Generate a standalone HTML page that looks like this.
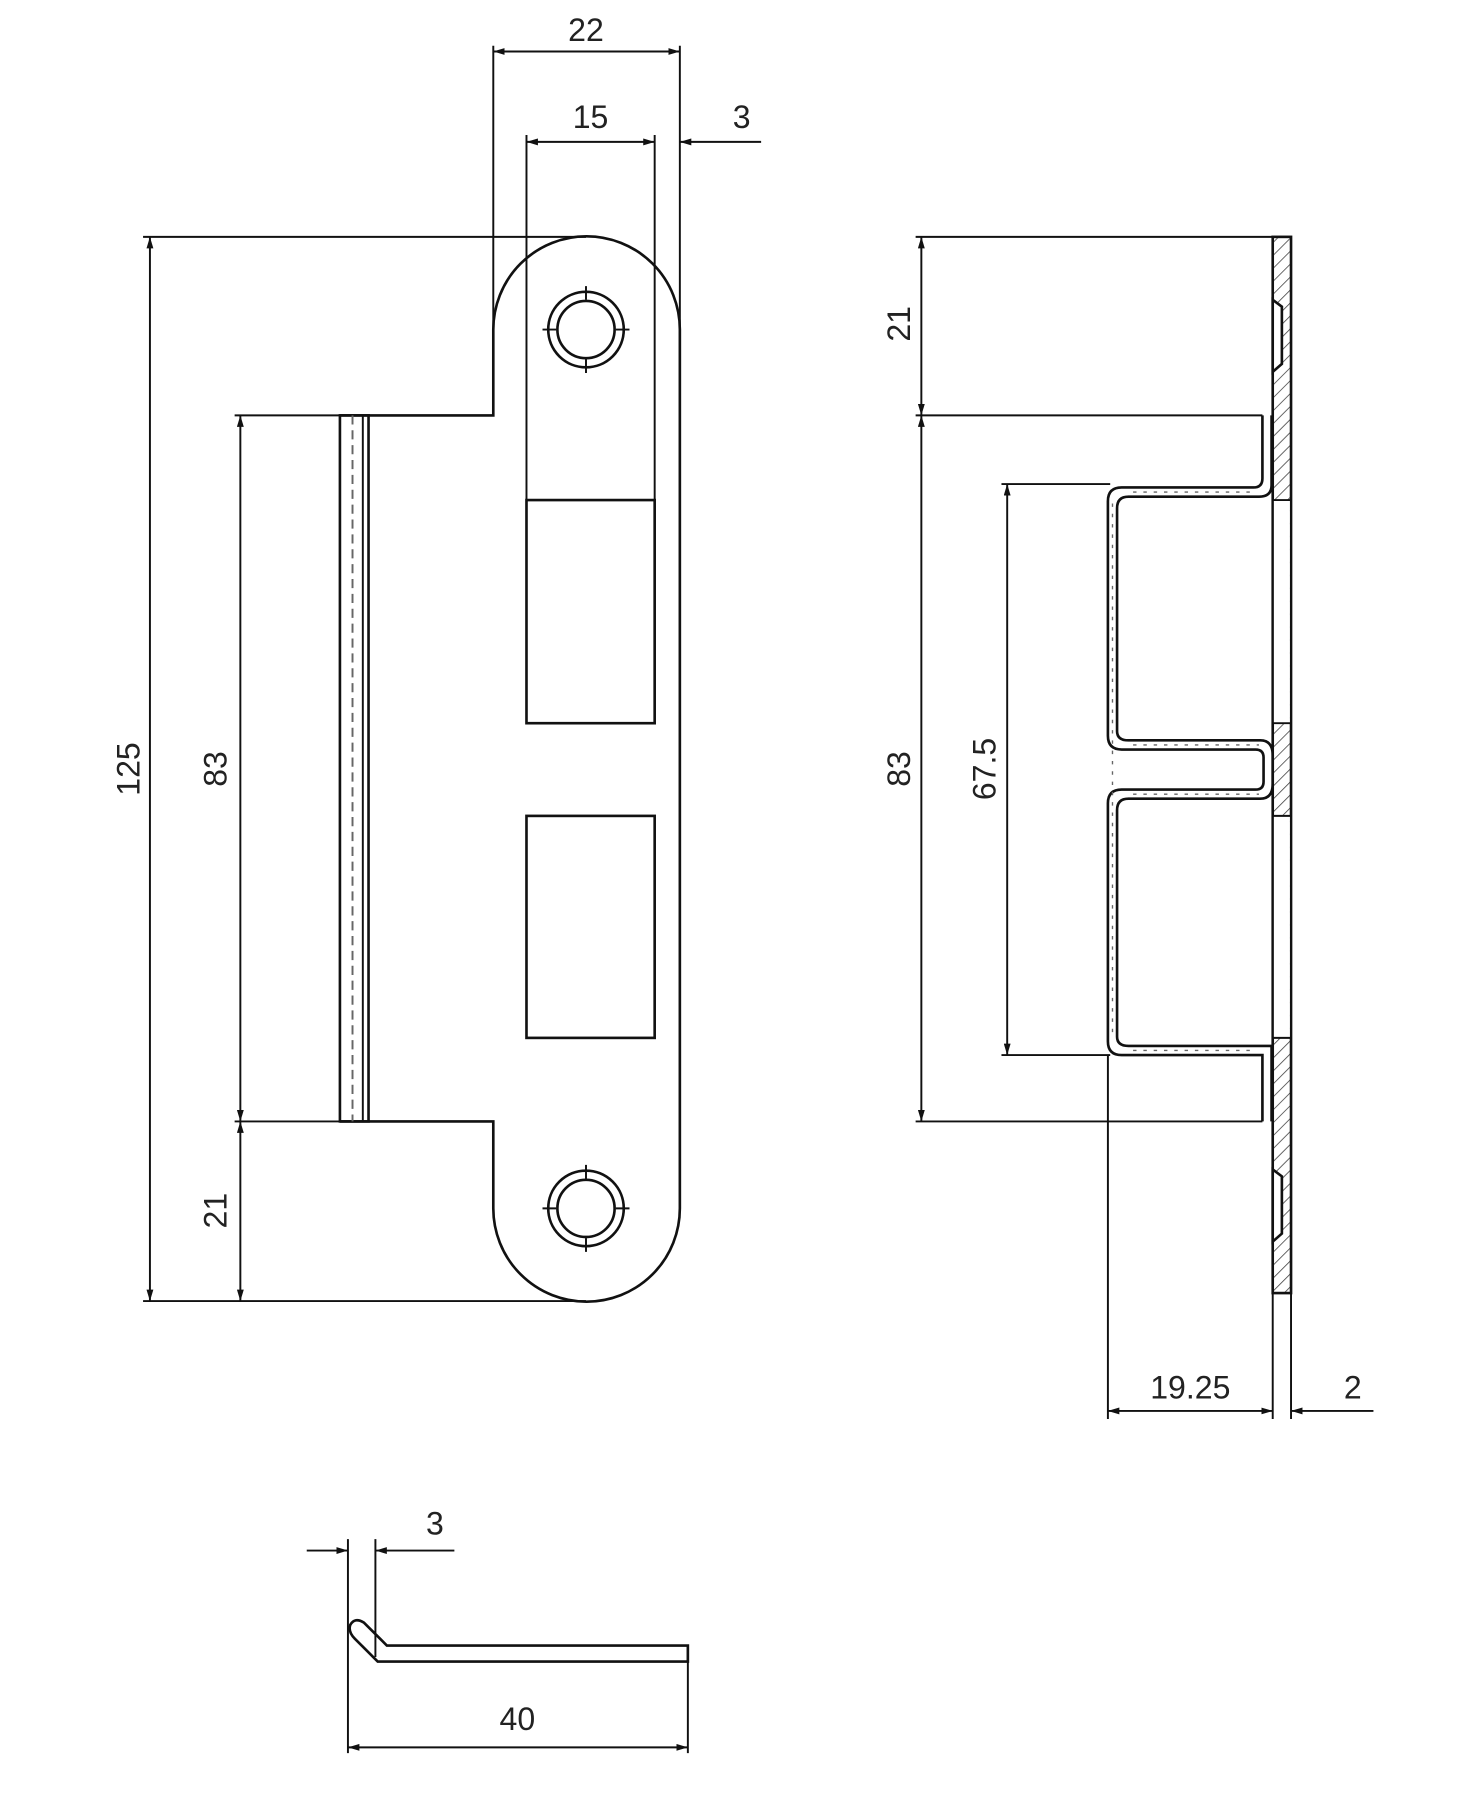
<!DOCTYPE html>
<html><head><meta charset="utf-8"><style>html,body{margin:0;padding:0;background:#fff}svg{display:block}</style></head><body>
<svg width="1465" height="1800" viewBox="0 0 1280 1573" preserveAspectRatio="none" xmlns="http://www.w3.org/2000/svg">
<defs>
<marker id="a" viewBox="0 0 10 6" refX="10" refY="3" markerWidth="10" markerHeight="6" orient="auto-start-reverse" markerUnits="userSpaceOnUse"><path d="M0,0L10,3L0,6z" fill="#111"/></marker>
<pattern id="h" width="8" height="8" patternUnits="userSpaceOnUse" patternTransform="rotate(45)"><line x1="0" y1="0" x2="0" y2="8" stroke="#444" stroke-width="1.4"/></pattern>
</defs>
<g fill="none" stroke="#111" stroke-width="1.7">
<line x1="431" y1="40" x2="431" y2="288"/><line x1="594" y1="40" x2="594" y2="288"/>
<line x1="460" y1="118" x2="460" y2="437"/><line x1="572" y1="118" x2="572" y2="437"/>
<line x1="125" y1="207" x2="512" y2="207"/><line x1="125" y1="1137" x2="512" y2="1137"/>
<line x1="205" y1="363" x2="297" y2="363"/><line x1="205" y1="980" x2="297" y2="980"/>
<line x1="431" y1="45" x2="594" y2="45" marker-start="url(#a)" marker-end="url(#a)"/>
<line x1="460" y1="124" x2="572" y2="124" marker-start="url(#a)" marker-end="url(#a)"/>
<line x1="594" y1="124" x2="665" y2="124" marker-start="url(#a)"/>
<line x1="131" y1="207" x2="131" y2="1137" marker-start="url(#a)" marker-end="url(#a)"/>
<line x1="210" y1="363" x2="210" y2="980" marker-start="url(#a)" marker-end="url(#a)"/>
<line x1="210" y1="980" x2="210" y2="1137" marker-start="url(#a)" marker-end="url(#a)"/>
<path stroke-width="2.3" d="M297,363 H431 V288 A81.5,81.5 0 0 1 594,288 V1056 A81.5,81.5 0 0 1 431,1056 V980 H297"/>
<rect x="297" y="363" width="25" height="617" stroke-width="2.3"/>
<line x1="317" y1="363" x2="317" y2="980"/>
<line x1="308" y1="363" x2="308" y2="980" stroke-dasharray="8,5" stroke="#666"/>
<rect x="460" y="437" width="112" height="195" stroke-width="2.3"/>
<rect x="460" y="713" width="112" height="194" stroke-width="2.3"/>
<circle cx="512" cy="288" r="33" stroke-width="2.3"/><circle cx="512" cy="288" r="25" stroke-width="2.3"/>
<circle cx="512" cy="1056" r="33" stroke-width="2.3"/><circle cx="512" cy="1056" r="25" stroke-width="2.3"/>
<path d="M512,250v12M512,314v12M474,288h12M538,288h12M512,1018v12M512,1082v12M474,1056h12M538,1056h12"/>
<line x1="800" y1="207" x2="1112" y2="207"/>
<line x1="800" y1="363" x2="1103" y2="363"/>
<line x1="800" y1="980" x2="1103" y2="980"/>
<line x1="875" y1="423" x2="970" y2="423"/><line x1="875" y1="922" x2="970" y2="922"/>
<line x1="805" y1="207" x2="805" y2="363" marker-start="url(#a)" marker-end="url(#a)"/>
<line x1="805" y1="363" x2="805" y2="980" marker-start="url(#a)" marker-end="url(#a)"/>
<line x1="880" y1="423" x2="880" y2="922" marker-start="url(#a)" marker-end="url(#a)"/>
<rect x="1112" y="207" width="16" height="923" fill="url(#h)" stroke-width="2.3"/>
<rect x="1113" y="437" width="14" height="195" fill="#fff" stroke="none"/>
<rect x="1113" y="713" width="14" height="194" fill="#fff" stroke="none"/>
<path d="M1112,437h16M1112,632h16M1112,713h16M1112,907h16"/>
<path stroke-width="2.3" fill="#fff" d="M1112,262 L1120,268 V318 L1112,325 Z M1112,1022 L1120,1028 V1078 L1112,1085 Z"/>
<path d="M1103,363 V418 Q1103,426 1095,426 H980 Q968,426 968,438 V643 Q968,655 980,655 H1097 Q1104,655 1104,662 V683 Q1104,690 1097,690 H980 Q968,690 968,702 V910 Q968,922 980,922 H1103 V980" stroke-width="2.3"/>
<path d="M1111,363 V424 Q1111,434 1100,434 H986 Q976,434 976,444 V639 Q976,647 986,647 H1101 Q1112,647 1112,660 V685 Q1112,698 1101,698 H986 Q976,698 976,708 V906 Q976,914 986,914 H1111 V980" stroke-width="2.3"/>
<path d="M972,440V905M990,430H1098M990,918H1098M990,651H1100M990,694H1100" stroke="#666" stroke-width="1.2" stroke-dasharray="3,6"/>
<line x1="968" y1="922" x2="968" y2="1240"/><line x1="1112" y1="1130" x2="1112" y2="1240"/><line x1="1128" y1="1130" x2="1128" y2="1240"/>
<line x1="968" y1="1233" x2="1112" y2="1233" marker-start="url(#a)" marker-end="url(#a)"/>
<line x1="1128" y1="1233" x2="1200" y2="1233" marker-start="url(#a)"/>
<line x1="304" y1="1345" x2="304" y2="1532"/><line x1="328" y1="1345" x2="328" y2="1448"/><line x1="601" y1="1440" x2="601" y2="1532"/>
<line x1="268" y1="1355" x2="304" y2="1355" marker-end="url(#a)"/>
<line x1="328" y1="1355" x2="397" y2="1355" marker-start="url(#a)"/>
<line x1="304" y1="1527" x2="601" y2="1527" marker-start="url(#a)" marker-end="url(#a)"/>
<path stroke-width="2.3" d="M601,1438 H338 L318,1418 Q310,1413 306,1420 Q304,1426 310,1432 L330,1452 H601 Z"/>
</g>
<g fill="#222" font-family="Liberation Sans, sans-serif" font-size="28" text-anchor="middle">
<text x="512" y="36">22</text>
<text x="516" y="112">15</text>
<text x="648" y="112">3</text>
<text transform="translate(122,672) rotate(-90)">125</text>
<text transform="translate(198,672) rotate(-90)">83</text>
<text transform="translate(198,1058) rotate(-90)">21</text>
<text transform="translate(795,283) rotate(-90)">21</text>
<text transform="translate(795,672) rotate(-90)">83</text>
<text transform="translate(870,672) rotate(-90)">67.5</text>
<text x="1040" y="1222">19.25</text>
<text x="1182" y="1222">2</text>
<text x="380" y="1341">3</text>
<text x="452" y="1512">40</text>
</g>
</svg>
</body></html>
